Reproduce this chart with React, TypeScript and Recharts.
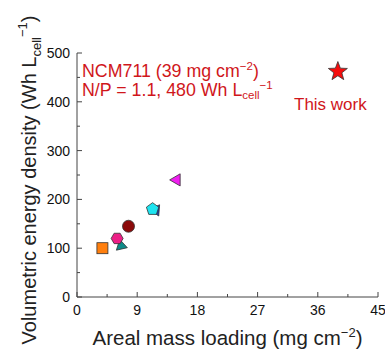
import React from "react";
import { ScatterChart, Scatter, XAxis, YAxis, Label } from "recharts";

const xTicks = [0, 4.5, 9, 13.5, 18, 22.5, 27, 31.5, 36, 40.5, 45];
const yTicks = [0, 50, 100, 150, 200, 250, 300, 350, 400, 450, 500];
const majorX = [0, 9, 18, 27, 36, 45];
const majorY = [0, 100, 200, 300, 400, 500];

const squareData = [{ x: 3.8, y: 100 }];
const tealData = [{ x: 6.6, y: 105 }];
const hexData = [{ x: 6.0, y: 120 }];
const circleData = [{ x: 7.7, y: 145 }];
const blueTriData = [{ x: 11.8, y: 178 }];
const pentData = [{ x: 11.3, y: 180 }];
const leftTriData = [{ x: 14.9, y: 240 }];
const starData = [{ x: 39, y: 462 }];

const FONT = "'Liberation Sans', Arial, sans-serif";
const RED = "#d0161b";

const poly = (cx: number, cy: number, r: number, n: number, rot: number) => {
  const pts: string[] = [];
  for (let i = 0; i < n; i++) {
    const a = rot + (i * 2 * Math.PI) / n;
    pts.push(`${cx + r * Math.cos(a)},${cy + r * Math.sin(a)}`);
  }
  return pts.join(" ");
};

const makeShape = (kind: string, fill: string) => (props: any) => {
  const { cx, cy } = props;
  const stroke = "#333";
  if (kind === "square")
    return <rect x={cx - 5.5} y={cy - 5.5} width={11} height={11} fill={fill} stroke={stroke} strokeWidth={0.8} />;
  if (kind === "circle")
    return <circle cx={cx} cy={cy} r={6} fill={fill} stroke={stroke} strokeWidth={0.8} />;
  if (kind === "hex")
    return <polygon points={poly(cx, cy, 6, 6, 0)} fill={fill} stroke={stroke} strokeWidth={0.8} />;
  if (kind === "pent")
    return <polygon points={poly(cx, cy, 6.5, 5, -Math.PI / 2)} fill={fill} stroke={stroke} strokeWidth={0.8} />;
  if (kind === "right")
    return <polygon points={poly(cx, cy, 6.5, 3, 0.3)} fill={fill} stroke={stroke} strokeWidth={0.8} />;
  if (kind === "up")
    return <polygon points={poly(cx, cy, 6.5, 3, -Math.PI / 2 + 0.6)} fill={fill} stroke={stroke} strokeWidth={0.8} />;
  if (kind === "left")
    return <polygon points={poly(cx, cy, 7, 3, Math.PI)} fill={fill} stroke={stroke} strokeWidth={0.8} />;
  if (kind === "star") {
    const pts: string[] = [];
    for (let i = 0; i < 10; i++) {
      const r = i % 2 === 0 ? 10 : 4.2;
      const a = -Math.PI / 2 + (i * Math.PI) / 5;
      pts.push(`${cx + r * Math.cos(a)},${cy + r * Math.sin(a)}`);
    }
    return <polygon points={pts.join(" ")} fill={fill} stroke={stroke} strokeWidth={0.8} />;
  }
  return null;
};

const XTick = (props: any) => {
  const { x, y, payload } = props;
  const major = majorX.includes(payload.value);
  return (
    <g>
      <line x1={x} x2={x} y1={y} y2={y - (major ? 5 : 3)} stroke="#444" strokeWidth={1} />
      {major && (
        <text x={x} y={y + 18} textAnchor="middle" fontSize={14} fontFamily={FONT} fill="#111">
          {payload.value}
        </text>
      )}
    </g>
  );
};

const YTick = (props: any) => {
  const { x, y, payload } = props;
  const major = majorY.includes(payload.value);
  return (
    <g>
      <line x1={x} x2={x + (major ? 5 : 3)} y1={y} y2={y} stroke="#444" strokeWidth={1} />
      {major && (
        <text x={x - 7} y={y + 5} textAnchor="end" fontSize={14} fontFamily={FONT} fill="#111">
          {payload.value}
        </text>
      )}
    </g>
  );
};

const XLabel = (props: any) => {
  const vb = props.viewBox || {};
  const cx = vb.x + vb.width / 2;
  return (
    <text x={cx} y={345} textAnchor="middle" fontSize={20.5} fontFamily={FONT} fill="#222">
      Areal mass loading (mg cm
      <tspan dy={-8} fontSize={13}>−2</tspan>
      <tspan dy={8}>)</tspan>
    </text>
  );
};

const YLabel = () => {
  return (
    <text
      x={0}
      y={0}
      transform="translate(36,180) rotate(-90)"
      textAnchor="middle"
      fontSize={20}
      fontFamily={FONT}
      fill="#222"
    >
      Volumetric energy density (Wh L
      <tspan dy={5} fontSize={13}>cell</tspan>
      <tspan dy={-14} fontSize={13}>−1</tspan>
      <tspan dy={9}>)</tspan>
    </text>
  );
};

export default function App() {
  return (
    <div style={{ position: "absolute", left: 0, top: 0, width: 385, height: 351, background: "#fff" }}>
      <ScatterChart width={385} height={351} margin={{ top: 53, right: 7, left: 0, bottom: 0 }}>
        <XAxis
          type="number"
          dataKey="x"
          xAxisId="b"
          domain={[0, 45]}
          ticks={xTicks}
          interval={0}
          tick={<XTick />}
          tickLine={false}
          tickSize={0}
          tickMargin={0}
          height={54}
          axisLine={{ stroke: "#444", strokeWidth: 1 }}
        >
          <Label content={<XLabel />} />
        </XAxis>
        <XAxis type="number" xAxisId="t" orientation="top" domain={[0, 45]} tick={false} tickLine={false} height={0} axisLine={{ stroke: "#444", strokeWidth: 1 }} />
        <YAxis
          type="number"
          dataKey="y"
          yAxisId="l"
          domain={[0, 500]}
          ticks={yTicks}
          interval={0}
          tick={<YTick />}
          tickLine={false}
          tickSize={0}
          tickMargin={0}
          width={77}
          axisLine={{ stroke: "#444", strokeWidth: 1 }}
        >
          <Label content={<YLabel />} />
        </YAxis>
        <YAxis type="number" yAxisId="r" orientation="right" domain={[0, 500]} tick={false} tickLine={false} width={0} axisLine={{ stroke: "#444", strokeWidth: 1 }} />
        <Scatter xAxisId="b" yAxisId="l" data={squareData} shape={makeShape("square", "#ff7f0e")} isAnimationActive={false} />
        <Scatter xAxisId="b" yAxisId="l" data={tealData} shape={makeShape("right", "#0e8a88")} isAnimationActive={false} />
        <Scatter xAxisId="b" yAxisId="l" data={hexData} shape={makeShape("hex", "#ec1f86")} isAnimationActive={false} />
        <Scatter xAxisId="b" yAxisId="l" data={circleData} shape={makeShape("circle", "#8b0a0a")} isAnimationActive={false} />
        <Scatter xAxisId="b" yAxisId="l" data={blueTriData} shape={makeShape("up", "#1a3fb0")} isAnimationActive={false} />
        <Scatter xAxisId="b" yAxisId="l" data={pentData} shape={makeShape("pent", "#1ee4f0")} isAnimationActive={false} />
        <Scatter xAxisId="b" yAxisId="l" data={leftTriData} shape={makeShape("left", "#f01ef0")} isAnimationActive={false} />
        <Scatter xAxisId="b" yAxisId="l" data={starData} shape={makeShape("star", "#f50d0d")} isAnimationActive={false} />
      </ScatterChart>
      <svg width={385} height={351} style={{ position: "absolute", left: 0, top: 0, pointerEvents: "none" }}>
        <text x={82} y={77} fontSize={17.8} fontFamily={FONT} fill={RED}>
          NCM711 (39 mg cm
          <tspan dy={-7} fontSize={11.5}>−2</tspan>
          <tspan dy={7}>)</tspan>
        </text>
        <text x={82} y={96} fontSize={17.8} fontFamily={FONT} fill={RED}>
          N/P = 1.1, 480 Wh L
          <tspan dy={3} fontSize={11.5}>cell</tspan>
          <tspan dy={-10} fontSize={11.5}>−1</tspan>
        </text>
        <text x={294} y={110} fontSize={17} fontFamily={FONT} fill={RED}>
          This work
        </text>
      </svg>
    </div>
  );
}
